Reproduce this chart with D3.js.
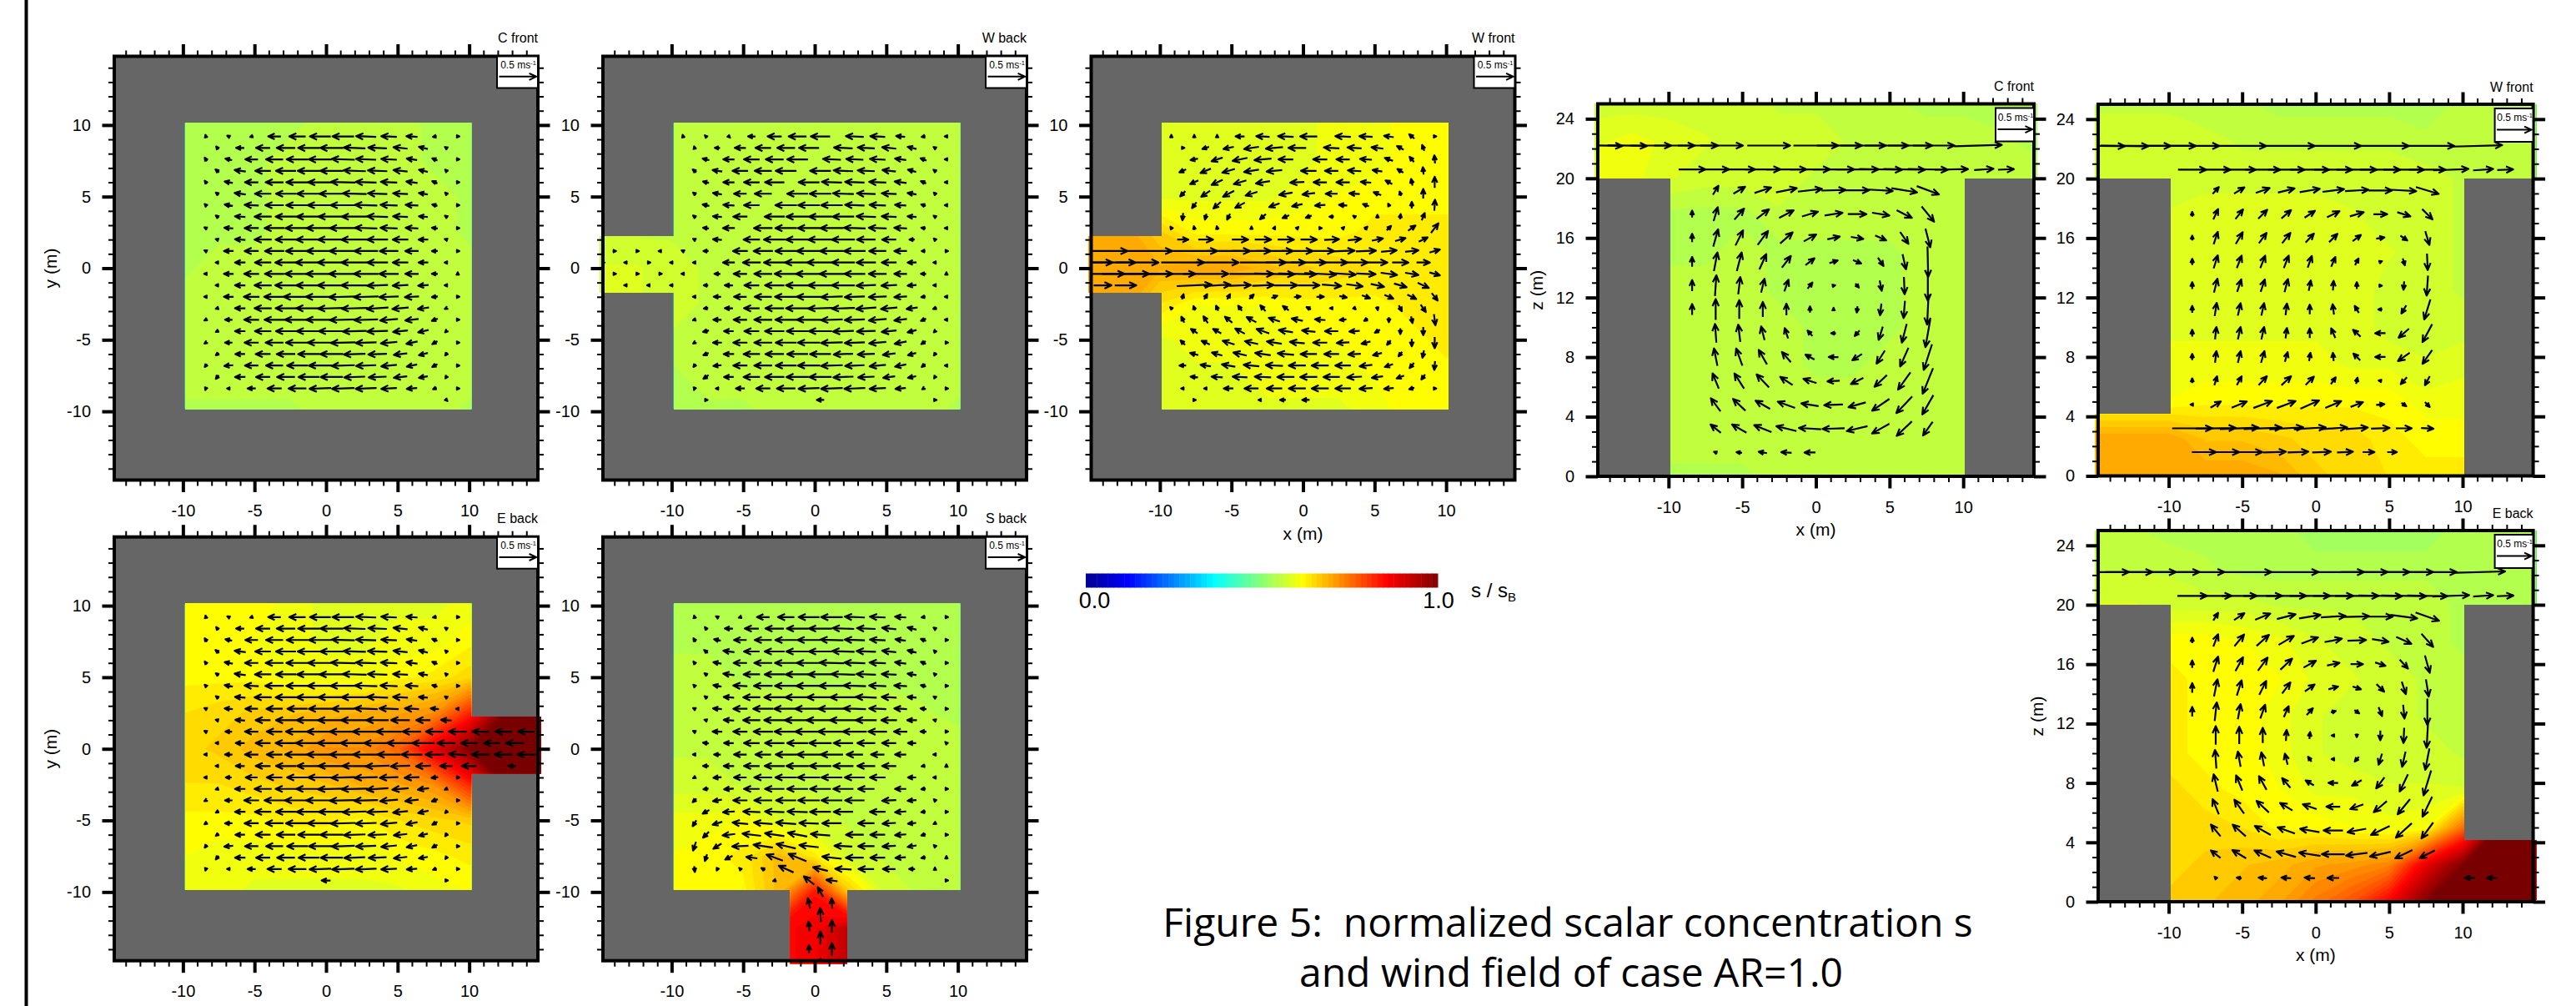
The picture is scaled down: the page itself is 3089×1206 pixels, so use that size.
<!DOCTYPE html>
<html>
<head>
<meta charset="utf-8">
<script src="https://cdn.jsdelivr.net/npm/d3@7"></script>
<style>
  html, body { margin: 0; background: #fff; }
  text { font-family: "Liberation Sans", Arial, sans-serif; fill: #000; }
</style>
</head>
<body>
<div id="chart"></div>
<script>
// Tick labels
const xyTicks = [-10, -5, 0, 5, 10];
const zTicks = [0, 4, 8, 12, 16, 20, 24];
const colorbarLabels = ["0.0", "1.0"];

// Horizontal sections: rows of wind vectors, cm/s, top row first
const xyRowY = [9.2, 8.4, 7.6, 6.8, 6, 5.2, 4.4, 3.6, 2.8, 2, 1.2, 0.4, -0.4, -1.2, -2, -2.8, -3.6, -4.4, -5.2, -6, -6.8, -7.6, -8.4];
const rightEndUsual = [9.2, 8.4, 9.2, 8.4, 9.2, 8.4, 9.2, 8.4, 9.2, 8.4, 9.2, 8.4, 9.2, 8.4, 9.2, 8.4, 9.2, 8.4, 9.2, 8.4, 9.2, 8.4, 9.2];
const leftStartW = [-9.2, -8.4, -9.2, -8.4, -9.2, -8.4, -9.2, -8.4, -9.2, -8.4, -9.2, -8.4, -9.2, -8.4, -9.2, -8.4, -9.2, -8.4, -9.2, -8.4, -9.2, -8.4, -9.2];
const leftCountW = [7, 6, 6, 5, 5, 4, 4, 3, 3, 2, 2, 1, 1, 0, 0, 0, 0, 0, 0, 0, 0, 0, 0];
const noLeftCount = [0, 0, 0, 0, 0, 0, 0, 0, 0, 0, 0, 0, 0, 0, 0, 0, 0, 0, 0, 0, 0, 0, 0];
const leftStartS = [0, 0, 0, 0, 0, 0, 0, 0, 0, 0, 0, -7.6, -8.4, -7.6, -8.4, -7.6, -8.4, -7.6, -8.4, -7.6, -8.4, -7.6, -8.4];
const rightEndS = [9.2, 8.4, 9.2, 8.4, 9.2, 8.4, 9.2, 8.4, 9.2, 8.4, 9.2, 9.2, 8.4, 9.2, 8.4, 9.2, 8.4, 9.2, 8.4, 9.2, 8.4, 9.2, 8.4];
const leftCountS = [0, 0, 0, 0, 0, 0, 0, 0, 0, 0, 0, 10, 10, 9, 9, 8, 8, 7, 7, 6, 6, 5, 5];

const cFrontU = [
  [-1,-2,-3,-17,-22,-28,-29,-27,-21,-15,-5,1],
  [-3,-11,-19,-25,-29,-31,-29,-25,-19,-12,-3],
  [-3,-9,-17,-23,-29,-31,-31,-27,-21,-14,-7,1],
  [-5,-15,-21,-27,-30,-31,-30,-26,-19,-12,-3],
  [-3,-11,-18,-24,-30,-33,-33,-28,-22,-15,-7,1],
  [-4,-15,-22,-27,-32,-33,-32,-26,-20,-12,-3],
  [-2,-11,-19,-25,-30,-34,-34,-30,-23,-17,-7,1],
  [-4,-14,-23,-28,-33,-36,-35,-28,-20,-12,-3],
  [-2,-12,-19,-27,-32,-37,-36,-30,-23,-17,-8,1],
  [-3,-14,-23,-28,-34,-37,-36,-28,-21,-13,-3],
  [-2,-13,-19,-26,-31,-37,-37,-32,-25,-18,-8,1],
  [-3,-14,-22,-29,-36,-38,-36,-28,-21,-13,-3],
  [-2,-13,-20,-26,-33,-38,-38,-33,-26,-18,-8,0],
  [-3,-14,-23,-29,-34,-38,-36,-28,-21,-14,-3],
  [-2,-13,-21,-28,-37,-39,-38,-33,-26,-19,-8,1],
  [-3,-14,-23,-28,-34,-37,-35,-29,-22,-15,-4],
  [-2,-10,-20,-27,-34,-38,-36,-32,-24,-18,-8,1],
  [-4,-14,-22,-27,-33,-35,-32,-28,-20,-14,-3],
  [-3,-10,-19,-24,-31,-34,-33,-28,-22,-15,-7,1],
  [-4,-13,-20,-25,-29,-31,-29,-25,-18,-12,-3],
  [-3,-12,-18,-23,-28,-31,-31,-27,-21,-14,-7,1],
  [-4,-14,-19,-24,-28,-30,-28,-24,-18,-12,-2],
  [-1,-2,-11,-19,-24,-29,-30,-28,-21,-14,-5,1]
];
const cFrontV = [
  [4,1,-1,0,0,0,0,1,1,1,-1,0],
  [4,0,0,0,0,0,1,1,2,3,2],
  [5,2,0,0,0,0,1,1,1,2,3,0],
  [4,2,0,0,0,0,1,1,2,3,3],
  [4,2,0,0,0,0,1,1,1,2,3,0],
  [3,2,0,0,0,0,1,1,1,2,3],
  [2,2,1,0,0,0,0,1,1,1,2,0],
  [3,1,0,0,0,0,0,1,1,1,2],
  [1,1,0,0,0,0,0,1,1,1,1,0],
  [1,1,0,0,0,0,0,0,0,0,1],
  [1,0,0,0,0,0,0,0,0,0,0,0],
  [0,0,0,0,0,0,0,0,0,0,0],
  [0,0,0,0,0,0,0,0,0,0,0,2],
  [0,0,0,0,0,0,0,-1,-1,-1,0],
  [0,0,0,0,0,0,-1,-1,-1,-1,-1,0],
  [-1,0,0,0,0,-1,-1,-2,-2,-2,-2],
  [-1,0,0,0,0,0,-1,-1,-2,-2,-3,0],
  [-2,0,0,0,0,0,-1,-1,-2,-3,-3],
  [-2,0,0,0,0,0,-1,-1,-2,-3,-4,0],
  [-3,0,0,0,0,0,-1,-1,-2,-3,-4],
  [-4,-1,0,0,0,0,-1,-1,-2,-3,-4,0],
  [-5,0,0,0,0,0,-1,-1,-2,-2,-3],
  [-3,0,0,0,0,-1,-1,-1,-1,-1,-2,0]
];
const cFrontExtraY = [-9.2];
const cFrontExtraX = [[8.4]];
const cFrontExtraU = [[1]];
const cFrontExtraV = [[-1]];

const wBackU = [
  [-1,-1,1,-10,-19,-24,-26,-24,-20,-12,-5,-2],
  [-1,-7,-15,-21,-24,-27,-25,-23,-19,-12,-3],
  [null,-9,-15,-21,-24,-28,-24,-23,-21,-15,-8,-2],
  [-5,-13,-21,-23,-28,-28,-26,-23,-18,-11,-4],
  [null,-8,-15,-21,-26,-28,-27,-26,-23,-16,-7,-2],
  [-4,-12,-17,-23,-28,-29,-28,-25,-20,-12,-3],
  [null,-9,-15,-21,-29,-29,-29,-26,-22,-15,-6,-1],
  [-4,-12,-19,-27,-30,-31,-29,-26,-20,-12,-3],
  [null,-8,-16,-25,-29,-30,-31,-29,-24,-17,-6,-1],
  [-2,-12,-22,-29,-31,-33,-31,-25,-19,-7,-1],
  [-2,-7,-20,-26,-29,-33,-32,-29,-23,-17,-5,0],
  [-4,-16,-24,-29,-34,-36,-31,-26,-20,-12,-1],
  [-1,-8,-18,-24,-31,-35,-33,-28,-24,-17,-7,0],
  [-6,-11,-20,-26,-31,-33,-31,-26,-21,-12,-1],
  [-3,-10,-17,-23,-30,-33,-29,-27,-24,-17,-6,-1],
  [-6,-11,-21,-25,-31,-33,-31,-27,-22,-15,-5],
  [-3,-11,-18,-24,-29,-33,-29,-27,-24,-17,-7,-1],
  [-8,-13,-20,-26,-29,-31,-28,-25,-20,-12,-3],
  [-3,-12,-19,-24,-28,-30,-29,-27,-23,-16,-6,0],
  [-7,-14,-22,-25,-28,-28,-26,-23,-17,-11,-3],
  [-3,-11,-19,-24,-28,-30,-29,-26,-22,-15,-5,-1],
  [-7,-13,-22,-26,-30,-30,-27,-22,-16,-11,-2],
  [-1,-3,-12,-19,-25,-28,-29,-28,-22,-14,-3,0]
];
const wBackExtraY = [1.2, 0.4, -0.4, -1.2, -9.2];
const wBackExtraX = [[-14,-12.4,-10.8],[-14.8,-13.2,-11.6,-10],[-14,-12.4,-10.8],[-13.2,-11.6,-10],[-7.6,0.4,8.4]];
const wBackExtraU = [[2,2,-2],[1,-2,2,-2],[2,2,2],[-1,-1,-1],[2,-10,2]];
const wBackExtraV = [[0,0,0],[0,0,0,0],[0,0,0],[0,0,0],[0,0,0]];

const wFrontU = [
  [0,0,0,-12,-18,-21,-23,-21,-18,-13,-7,0],
  [0,-9,-14,-20,-23,-24,-21,-19,-16,-9,-3],
  [null,-10,-15,-20,-23,-20,-19,-18,-16,-11,-6,-1],
  [-9,-14,-17,-20,-21,-21,-18,-18,-13,-8,-1],
  [null,-11,-15,-17,-19,-19,-18,-18,-14,-9,-2,0],
  [-7,-12,-15,-16,-18,-17,-16,-14,-10,-2,0],
  [null,-6,-10,-13,-14,-14,-14,-11,-8,-2,0,1],
  [-1,-2,-4,-8,-9,-8,-6,-3,0,1,4],
  [-2,-1,-1,0,1,1,1,2,4,6,10,10],
  [15,20,22,22,22,22,20,18,15,14,12],
  [], [], [], [],
  [2,4,4,6,8,9,10,10,11,12,12,8],
  [-2,-3,-5,-7,-8,-6,-2,1,1,4,7],
  [-4,-6,-10,-13,-15,-15,-14,-9,-5,0,2,2],
  [-9,-11,-13,-17,-19,-18,-18,-14,-7,0,0],
  [-6,-11,-16,-18,-20,-20,-19,-17,-12,-5,0,0],
  [-11,-14,-18,-21,-22,-22,-20,-17,-12,-5,-2],
  [-9,-14,-18,-21,-23,-23,-23,-21,-17,-11,-6,-1],
  [-10,-15,-20,-22,-23,-23,-22,-20,-15,-10,-5],
  [-1,-4,-13,-19,-21,-23,-23,-21,-18,-13,-7,0]
];
const wFrontV = [
  [1,1,1,0,1,1,0,1,1,2,6,0],
  [0,-3,-3,-3,-2,0,1,1,2,5,8],
  [0,-2,-5,-4,-2,0,0,0,1,4,7,11],
  [-4,-6,-5,-3,-2,0,0,1,2,5,10],
  [0,-5,-7,-5,-3,-1,0,0,1,5,9,15],
  [-7,-8,-8,-5,-3,-2,0,1,4,6,13],
  [0,-8,-9,-7,-5,-3,-1,1,3,4,9,15],
  [-10,-8,-8,-7,-4,-3,0,2,5,7,10],
  [3,5,5,3,2,1,0,2,4,6,7,13],
  [0,0,0,0,0,0,1,2,3,4,6],
  [], [], [], [],
  [7,7,7,6,3,1,0,-2,-4,-5,-6,-10],
  [6,7,7,8,6,3,0,-1,-5,-8,-10],
  [8,9,8,7,5,3,1,-1,-3,-7,-9,-15],
  [6,6,7,6,3,2,0,-1,-4,-8,-11],
  [6,5,5,4,3,2,0,-1,-3,-6,-10,-15],
  [3,4,4,3,2,0,0,-1,-3,-6,-10],
  [0,2,3,2,1,0,0,0,-2,-4,-7,-12],
  [1,1,1,1,0,0,0,-1,-2,-4,-7],
  [0,0,0,0,0,0,0,0,-1,-1,-2,0]
];
// inflow jet of the west front case, and a few stray vectors
const wFrontExtraY = [1.2, 0.4, -0.4, -1.2, -2.8, -9.2];
const wFrontExtraX = [
  [-14,-10.8,-7.6,-5.2,-3.6,-2,-0.4,1.2,2.8,4.4,6,7.6,9.2],
  [-14.8,-13.2,-11.6,-8.4,-6,-2.8,-1.2,0.4,2,3.6,5.2,6.8,8.4],
  [-14,-12.4,-10.8,-9.2,-6.8,-3.6,-2,-0.4,1.2,2.8,4.4,6,7.6,9.2],
  [-14,-12.4,-7.6,-6,-4.4,-2.8,-1.2,0.4,2,3.6,5.2,6.8,8.4],
  [-9.2],
  [-7.6,-3,-1.4,0.2]
];
const wFrontExtraU = [
  [67,64,62,58,52,50,42,38,31,27,21,18,14],
  [58,58,58,58,58,62,53,47,43,36,27,22,18],
  [59,64,65,65,61,59,54,51,43,34,26,22,18,14],
  [24,29,47,36,29,29,31,29,26,22,18,17,15],
  [-1],
  [2,-4,-8,-10]
];
const wFrontExtraV = [
  [0,0,0,0,0,0,0,0,1,1,2,2,4],
  [0,0,0,0,0,0,0,0,0,0,0,0,0],
  [0,0,0,0,0,0,-1,-1,-2,-2,-1,-3,-3,-4],
  [0,0,2,2,1,1,0,0,-2,-3,-4,-5,-7],
  [1],
  [0,0,0,0]
];

// east back differs from C front around the inlet rows only
const eBackU = cFrontU.slice(0, 8).concat([
  [-2,-11,-17,-22,-27,-31,-30,-31,-26,-19,-11,-3],
  [-4,-13,-20,-27,-33,-37,-36,-30,-25,-19,-14],
  [-2,-9,-18,-21,-31,-36,-36,-36,-34,-25,-24,-24],
  [-4,-12,-20,-28,-35,-38,-38,-36,-36,-30,-24],
  [-2,-10,-18,-21,-33,-36,-36,-35,-31,-28,-25,-24],
  [-4,-12,-20,-27,-32,-36,-33,-32,-26,-20,-17],
  [-1,-8,-16,-21,-28,-33,-32,-31,-25,-20,-9,0]
], cFrontU.slice(15));
const eBackExtraY = [1.2, 0.4, -0.4, -1.2, -9.2];
const eBackExtraX = [[10.8,12.4,14],[10,11.6,13.2],[10.8,12.4,14],[10,13],[0,8.4]];
const eBackExtraU = [[-22,-22,-22],[-22,-22,-24],[-24,-24,-24],[-20,-10],[-12,2]];
const eBackExtraV = [[0,0,0],[0,0,0],[0,0,0],[0,0],[0,0]];

// south back: upper rows follow C front, lower rows bend around the inlet
const sBackU = cFrontU.slice(0, 11).concat([
  [-8,-13,-21,-26,-28,-30,-26,-24,-19,-11,-1],
  [-3,-9,-17,-21,-28,-32,-30,-22,-18,-15,-1],
  [-8,-14,-21,-27,-30,-29,-27,-24,-19,-5,0],
  [-4,-11,-17,-24,-29,-30,-28,-27,-21,-11,-1],
  [-7,-13,-21,-26,-28,-28,-27,-22,-15,-6,0],
  [-5,-12,-19,-24,-27,-29,-28,-26,-19,-12,-1],
  [-9,-16,-23,-26,-27,-28,-26,-21,-15,-6,0],
  [-5,-13,-21,-25,-27,-26,-26,-22,-18,-11,-2],
  [-8,-17,-25,-26,-26,-26,-24,-20,-15,-6,0],
  [-4,-11,-22,-26,-26,-26,-24,-22,-18,-12,-1],
  [-3,-10,-15,-22,-24,-26,-24,-20,-14,-6,0],
  [1,-1,-1,-5,-20,-20,-22,-21,-17,-8,0]
]);
const sBackV = cFrontV.slice(0, 11).concat([
  [1,0,0,0,0,0,0,0,0,0,1],
  [0,0,0,0,0,0,0,0,0,0,0],
  [0,0,0,0,0,0,0,0,0,-1,2],
  [-2,-1,0,0,0,0,0,0,0,0,0],
  [-1,-1,0,0,0,0,0,0,0,-1,0],
  [-5,-2,0,0,0,0,0,0,-1,-1,1],
  [-5,-1,1,1,1,0,0,0,-1,-1,0],
  [-8,-4,2,2,2,1,0,0,-1,-1,-1],
  [-8,-2,3,4,5,2,0,0,-1,-2,0],
  [-12,-7,-1,4,6,3,1,0,-1,-2,1],
  [-9,-5,2,8,10,3,0,0,-1,-1,1],
  [-8,-2,1,3,9,5,1,0,0,0,1]
]);
const sBackExtraY = [-9.2, -10, -10.8, -11.6, -12.4, -13.2, -14, -14.8];
const sBackExtraX = [[-2.8,-0.4,1.2,9.2],[0.4],[-0.4,1.2],[0.4],[-0.4,1.2],[0.4],[-0.4,1.2],[0.4]];
const sBackExtraU = [[-3,-14,-15,3],[-7],[-3,-1],[-1],[-1,0],[0],[0,0],[0]];
const sBackExtraV = [[-1,11,2,0],[13],[14,14],[19],[13,17],[17],[11,17],[5]];

// Vertical sections: columns of the regular vector grid, rows from z=19.2 down
const xzColX = [-8.4, -6.8, -5.2, -3.6, -2, -0.4, 1.2, 2.8, 4.4, 6, 7.6];
const xzRowZ = [19.2, 17.6, 16, 14.4, 12.8, 11.2, 9.6, 8, 6.4, 4.8, 3.2, 1.6];

const cSectionU = [
  [null,8,17,24,30,35,35,35,35,37,32],
  [0,6,14,18,21,23,26,27,25,22,18],
  [0,7,11,15,18,18,18,18,16,12,7],
  [0,5,7,10,13,13,12,12,8,5,1],
  [0,2,3,5,6,7,5,5,3,1,0],
  [0,0,0,0,0,0,0,-1,-2,-2,-2],
  [null,-2,-3,-5,-5,-7,-7,-7,-6,-7,-7],
  [null,-5,-9,-12,-13,-13,-14,-14,-12,-12,-12],
  [null,-9,-14,-18,-18,-19,-18,-18,-18,-18,-15],
  [null,-14,-18,-21,-25,-25,-27,-25,-25,-23,-16],
  [null,-15,-21,-25,-29,-32,-32,-30,-25,-22,-14],
  [null,-5,-8,-12,-15,-16,null,null,null,null,null]
];
const cSectionV = [
  [null,13,10,8,6,4,1,0,-2,-6,-12],
  [10,20,16,14,11,7,4,0,-4,-11,-22],
  [12,25,22,20,16,10,4,-3,-7,-17,-27],
  [14,27,27,22,17,10,4,-5,-12,-22,-44],
  [16,30,25,20,17,9,1,-6,-15,-25,-44],
  [16,30,27,22,17,9,1,-9,-17,-25,-44],
  [null,27,25,20,15,8,0,-8,-19,-27,-40],
  [null,25,25,21,15,7,0,-9,-19,-27,-37],
  [null,22,22,19,12,6,-1,-9,-17,-25,-37],
  [null,19,17,12,9,4,-1,-7,-17,-24,-28],
  [null,12,12,10,7,2,-1,-7,-14,-21,-20],
  [null,2,1,2,1,0,null,null,null,null,null]
];
const cSectionTopZ = [22.2, 20.6];
const cSectionTopX = [
  [-14.4,-12.8,-11.2,-9.6,-8,-6.4,-3.2,0,1.6,3.2,4.8,6.4,8,11],
  [-8.4,-6.8,-5.2,-3.6,-2,-0.4,1.2,2.8,4.4,6,7.6,9.2,11.4,12.9]
];
const cSectionTopU = [
  [54,57,59,59,58,62,62,65,65,66,63,64,60,69],
  [39,39,46,51,58,58,60,62,62,60,58,48,28,23]
];
const cSectionTopV = [
  [-1,-1,0,0,0,0,0,0,0,0,0,0,0,2],
  [0,0,0,0,0,0,0,0,-1,-1,-1,1,2,1]
];

const wSectionU = [
  [null,9,15,20,24,29,31,34,34,36,33],
  [0,7,11,13,14,15,18,20,20,19,15],
  [0,6,10,11,12,12,12,12,12,10,6],
  [0,6,7,7,7,6,6,5,5,3,1],
  [0,5,6,6,5,3,1,0,3,-1,-2],
  [0,3,4,4,2,0,-2,-6,-6,-7,-9],
  [0,2,4,4,2,0,-6,-11,-15,-15,-14],
  [0,2,4,5,4,2,-1,-10,-15,-17,-14],
  [0,4,7,12,14,12,7,2,-5,-9,-7],
  [-1,15,22,27,27,27,23,18,12,7,7],
  [58,58,56,55,49,46,40,32,27,23,18],
  []
];
const wSectionV = [
  [null,10,9,7,6,5,4,2,0,-2,-10],
  [7,15,14,13,12,10,9,6,0,-6,-15],
  [7,18,17,15,15,13,12,9,2,-7,-20],
  [9,19,18,18,18,17,14,10,2,-10,-24],
  [10,20,18,18,19,15,14,10,0,-12,-29],
  [10,19,18,18,17,14,15,10,0,-12,-29],
  [10,18,18,18,15,14,14,10,0,-13,-26],
  [9,17,17,17,14,12,12,10,0,-12,-20],
  [7,13,13,13,13,12,10,9,1,-10,-13],
  [0,9,9,10,10,12,10,7,1,-5,-7],
  [0,1,2,2,3,3,3,2,1,0,-1],
  []
];
const wSectionTopZ = [22.2, 20.6, 1.6];
const wSectionTopX = [
  [-14.6,-13,-11.5,-9.8,-8.2,-5,-1.7,1.45,4.7,7.8,11],
  [-8.4,-6.8,-5.2,-3.6,-2,-0.4,1.2,2.8,4.4,6,7.6,9.2,11.4,12.9],
  [-7.6,-6,-4.4,-2.8,-1.2,0.4,2,3.6,5.2]
];
const wSectionTopU = [
  [69,69,70,70,70,70,70,70,70,70,72],
  [41,43,48,51,53,56,55,58,58,59,53,51,29,23],
  [35,34,33,33,30,27,23,17,14]
];
const wSectionTopV = [
  [-1,-1,0,0,0,0,0,0,0,0,2],
  [0,0,0,0,0,0,0,0,0,0,0,2,2,1],
  [0,0,0,1,1,1,1,0,0]
];

const eSectionU = [
  [null,7,15,22,27,31,36,36,36,39,34],
  [0,7,14,18,22,24,25,27,24,22,17],
  [0,7,11,14,17,18,18,18,15,12,7],
  [0,5,7,10,12,14,14,12,11,6,4],
  [0,3,4,7,7,9,7,7,5,2,0],
  [null,0,0,0,1,1,-3,0,0,-1,-2],
  [null,-2,-4,-4,-4,-5,-5,-6,-5,-5,-6],
  [null,-6,-9,-11,-12,-12,-14,-14,-12,-12,-11],
  [null,-9,-14,-18,-18,-20,-20,-19,-19,-18,-14],
  [null,-14,-19,-23,-25,-28,-28,-27,-27,-23,-17],
  [null,-14,-20,-24,-28,-31,-33,-31,-30,-25,-22],
  [null,-2,-7,-12,-14,-15,-17,null,null,null,null]
];
const eSectionV = [
  [null,11,10,9,7,5,2,1,0,-5,-12],
  [8,18,17,16,13,9,5,1,-4,-10,-19],
  [11,22,20,19,16,10,4,0,-5,-13,-25],
  [14,25,22,20,16,10,4,-4,-11,-18,-25],
  [14,27,22,20,16,10,2,-5,-13,-20,-38],
  [null,27,25,22,16,10,0,-5,-14,-22,-36],
  [null,27,22,20,16,7,0,-7,-16,-22,-31],
  [null,25,22,20,14,7,0,-8,-16,-25,-36],
  [null,22,20,17,11,7,0,-7,-16,-22,-29],
  [null,17,17,13,9,5,0,-5,-13,-21,-23],
  [null,11,12,11,8,5,0,-4,-7,-12,-11],
  [null,2,1,1,1,1,0,null,null,null,null]
];
const eSectionTopZ = [22.2, 20.6, 1.6];
const eSectionTopX = [
  [-14.3,-12.7,-11.1,-9.5,-7.8,-4.6,-1.4,1.7,3.3,4.8,6.4,8,11.2],
  [-8.4,-6.8,-5.2,-3.6,-2,-0.4,1.2,2.8,4.4,6,7.6,9.2,11.4,12.9],
  [10.5,12]
];
const eSectionTopU = [
  [68,68,68,68,68,68,68,68,68,68,68,68,72],
  [43,46,51,56,58,59,58,63,63,65,58,53,29,24],
  [-15,-15]
];
const eSectionTopV = [
  [0,0,0,0,0,0,0,0,0,0,0,0,2],
  [0,0,0,0,0,0,0,0,-1,-1,-1,2,2,1],
  [0,0]
];

// Scalar concentration in percent on a 2.5 m grid, x from -15 to 15
const cFrontField = [
  [54,54,54,54,54,54,54,54,54,54,54,54,54],
  [54,54,54,54,54,54,54,54,54,54,54,54,54],
  [54,54,54,54,54,54,56,56,56,54,54,54,54],
  [54,54,54,54,54,56,56,56,56,54,54,54,54],
  [54,54,54,54,54,56,56,56,56,56,54,54,54],
  [54,54,54,54,54,56,56,56,56,56,54,54,54],
  [54,54,54,56,56,56,56,56,56,56,56,56,56],
  [56,56,56,56,56,56,56,56,56,56,56,56,56],
  [56,56,56,56,56,56,56,56,56,56,56,56,56],
  [56,56,56,56,56,56,56,56,56,56,56,56,56],
  [54,54,54,54,54,54,56,56,56,56,54,54,54],
  [54,54,54,54,54,54,56,56,56,56,54,54,54],
  [54,54,54,54,54,54,56,56,56,56,54,54,54]
];
const wBackField = [
  [56,56,56,56,56,56,56,56,56,56,56,56,56],
  [56,56,56,56,56,56,56,56,56,56,56,56,56],
  [56,56,56,56,56,56,56,56,56,56,56,56,56],
  [56,56,56,56,56,56,56,56,56,56,56,56,56],
  [56,56,56,56,56,56,56,56,56,56,56,56,56],
  [56,56,56,56,56,56,56,56,56,56,56,56,56],
  [58,58,57,56,56,56,56,56,56,56,56,56,56],
  [58,58,57,56,56,56,56,56,56,56,56,56,56],
  [56,56,56,56,56,56,56,56,56,56,56,56,56],
  [54,54,54,56,56,56,56,56,56,56,56,56,56],
  [54,54,54,54,54,56,56,56,56,56,54,54,54],
  [54,54,54,54,54,56,56,56,56,56,54,54,54],
  [54,54,54,54,54,56,56,56,56,56,54,54,54]
];
const wFrontField = [
  [59,59,59,59,59,59,59,60,60,62,62,62,62],
  [59,59,59,59,59,59,59,60,60,62,62,62,62],
  [59,59,59,59,59,59,59,60,60,62,62,62,62],
  [59,59,59,59,59,59,59,60,60,62,62,62,62],
  [59,59,59,59,59,59,60,61,62,62,62,62,62],
  [70,70,66,62,62,62,62,62,63,63,63,63,63],
  [70,70,69,70,70,68,66,65,64,64,64,64,64],
  [70,70,64,61,61,61,62,62,62,63,64,64,64],
  [59,59,59,60,60,60,61,61,62,62,63,63,63],
  [59,59,59,59,59,60,60,60,61,62,62,62,62],
  [59,59,59,59,59,59,59,59,60,62,62,62,62],
  [59,59,59,59,59,59,59,59,60,62,62,62,62],
  [59,59,59,59,59,59,59,59,60,62,62,62,62]
];
const eBackField = [
  [62,62,62,62,62,60,59,59,59,59,60,60,60],
  [62,62,62,62,62,60,59,59,59,59,60,60,60],
  [62,62,62,62,62,60,59,59,59,59,60,60,60],
  [62,62,62,62,61,60,59,59,60,60,62,62,62],
  [62,62,62,62,62,60,60,60,62,63,65,65,65],
  [64,64,64,65,66,67,68,69,70,72,82,100,100],
  [66,66,65,66,68,69,72,72,76,88,100,100,100],
  [64,64,64,64,65,66,67,69,70,72,82,100,100],
  [62,62,62,62,62,63,63,62,64,65,66,66,66],
  [60,61,61,60,60,60,60,60,61,62,63,63,63],
  [61,61,61,60,59,59,59,59,59,60,61,61,61],
  [61,61,61,60,59,59,59,59,59,60,61,61,61],
  [61,61,61,60,59,59,59,59,59,60,61,61,61]
];
const sBackField = [
  [54,54,54,54,54,54,54,54,54,54,54,54,54],
  [54,54,54,54,54,54,54,54,54,54,54,54,54],
  [54,54,54,54,54,54,54,54,54,54,54,54,54],
  [54,54,54,54,54,54,54,54,54,54,54,54,54],
  [56,56,56,56,54,54,54,54,54,54,54,54,54],
  [56,56,56,56,56,56,56,56,56,55,54,54,54],
  [56,56,56,56,56,56,56,56,56,56,56,56,56],
  [57,57,57,57,56,56,56,56,56,56,56,56,56],
  [60,60,60,60,61,58,57,56,56,56,56,56,56],
  [61,61,61,62,63,68,63,57,56,56,56,56,56],
  [61,61,61,61,62,68,84,66,57,56,56,56,56],
  [61,61,61,61,62,85,87,93,57,56,56,56,56],
  [61,61,61,61,62,85,87,93,57,56,56,56,56]
];
// Vertical sections, z from 25 down to 0
const cSectionField = [
  [57,57,57,57,57,56,56,56,55,54,54,54,54],
  [59,60,59,58,57,57,57,56,56,56,56,55,54],
  [60,60,58,57,57,57,56,56,56,56,56,56,56],
  [56,56,54,54,54,56,56,56,56,56,56,56,56],
  [56,56,54,54,56,54,54,54,54,56,56,56,56],
  [56,56,56,56,56,54,54,54,54,56,56,56,56],
  [56,56,56,56,56,56,54,54,54,56,56,56,56],
  [56,56,56,56,56,56,54,54,56,56,56,56,56],
  [56,56,56,56,56,56,56,56,56,56,56,56,56],
  [56,56,56,56,56,56,56,56,56,56,56,56,56],
  [56,56,54,54,54,56,56,56,56,56,56,54,54]
];
const wSectionField = [
  [56,56,56,55,55,54,54,54,54,54,55,55,55],
  [57,57,57,57,56,56,56,56,56,55,55,56,56],
  [57,57,57,57,57,57,57,57,57,57,56,56,56],
  [58,58,58,59,59,59,59,58,57,57,56,56,56],
  [58,58,59,59,59,59,59,58,58,57,56,56,56],
  [59,59,59,59,59,59,59,59,57,57,56,56,56],
  [59,59,59,59,59,59,59,59,57,57,57,57,57],
  [60,60,60,60,60,60,60,59,59,58,59,59,59],
  [61,61,61,62,62,62,62,62,62,60,60,60,60],
  [70,70,70,67,67,66,65,65,63,62,62,62,62],
  [70,70,70,70,70,69,66,65,64,63,63,63,63]
];
const eSectionField = [
  [55,55,54,54,54,54,52,52,52,52,54,54,54],
  [56,56,56,55,54,54,54,54,54,54,54,54,54],
  [58,58,57,57,57,56,56,56,56,56,54,54,54],
  [61,61,62,62,61,60,58,57,56,56,54,54,54],
  [63,63,63,62,62,61,59,58,57,56,56,56,56],
  [63,63,63,62,62,60,58,57,57,56,56,56,56],
  [63,63,63,62,62,60,58,57,57,57,56,56,56],
  [64,64,65,63,62,61,59,59,58,58,58,58,58],
  [64,64,65,65,64,62,62,61,60,61,75,100,100],
  [65,65,65,66,67,68,70,71,73,88,100,100,100],
  [65,65,66,67,68,70,74,78,86,100,100,100,100]
];

// colour ramp of the scalar, 64 steps
const rampStops = [0, 0.12, 0.365, 0.615, 0.855, 1];
const rampColors = ["#00008f", "#0000ff", "#00ffff", "#ffff00", "#ff0000", "#800000"];
const color = d3.scaleLinear().domain(rampStops).range(rampColors);
const steps = 64;

const width = 3089;
const height = 1206;

const svg = d3.select("#chart").append("svg")
  .attr("width", width).attr("height", height)
  .style("display", "block");

// Left rule of the page
svg.append("line")
  .attr("x1", 31.5).attr("x2", 31.5).attr("y1", 0).attr("y2", height)
  .attr("stroke", "#000").attr("stroke-width", 4);

// Turn rows of values into arrow objects
function rowsToArrows(ys, xRows, uRows, vRows) {
  const out = [];
  ys.forEach((y, i) => {
    xRows[i].forEach((x, j) => {
      const u = uRows[i][j];
      if (u === null || u === undefined) return;
      out.push({ x: x, y: y, u: u, v: vRows[i][j] || 0 });
    });
  });
  return out;
}

// x positions of a row: some counted from the left, the rest from the right
function gridRows(uRows, leftCount, leftStart, rightEnd) {
  return uRows.map((row, i) => {
    const n = leftCount[i];
    const m = row.length - n;
    const left = d3.range(n).map(k => leftStart[i] + 1.6 * k);
    const right = d3.range(m).map(k => rightEnd[i] - 1.6 * (m - 1 - k));
    return left.concat(right);
  });
}

const xySize = 508;
const xyHalf = 14.8;
const xzHalf = 14.8;

const arrowPath = (x, y, speed) => a => {
  const dx = speed(a.u), dy = speed(a.v);
  let len = Math.hypot(dx, dy);
  const ux = len ? dx / len : 1, uy = len ? dy / len : 0;
  len = Math.max(len, 4);
  const cx = x(a.x), cy = y(a.y);
  const x0 = cx - ux * len / 2, y0 = cy + uy * len / 2;
  const x1 = cx + ux * len / 2, y1 = cy - uy * len / 2;
  const h = Math.min(8.5, 2.5 + len * 0.35);
  const w = h * 0.45;
  const bx = x1 - ux * h, by = y1 + uy * h;
  const nx = uy, ny = ux;
  return `M${x0},${y0}L${x1},${y1}M${bx + nx * w},${by + ny * w}L${x1},${y1}L${bx - nx * w},${by - ny * w}`;
};

let panelId = 0;

function drawPanel(p) {
  const id = "panel" + (panelId++);
  const g = svg.append("g");
  const x = d3.scaleLinear().domain(p.xDomain).range([p.left, p.right]);
  const y = d3.scaleLinear().domain(p.yDomain).range([p.bottom, p.top]);

  // buildings
  g.append("rect")
    .attr("x", p.left).attr("y", p.top)
    .attr("width", p.right - p.left).attr("height", p.bottom - p.top)
    .attr("fill", "#666666");

  // open air region as clip for the scalar field
  const clip = g.append("clipPath").attr("id", id + "-open");
  p.open.forEach(r => {
    clip.append("rect")
      .attr("x", x(r[0])).attr("y", y(r[3]))
      .attr("width", x(r[1]) - x(r[0])).attr("height", y(r[2]) - y(r[3]));
  });
  g.append("clipPath").attr("id", id + "-frame").append("rect")
    .attr("x", p.left).attr("y", p.top)
    .attr("width", p.right - p.left).attr("height", p.bottom - p.top);

  // filled contours of the field
  const nx = p.field[0].length, ny = p.field.length;
  const contours = d3.contours().size([nx, ny])
    .thresholds(d3.range(0, steps + 1).map(k => k / steps))(p.field.flat().map(d => d / 100));
  const project = d3.geoTransform({
    point: function (gx, gy) {
      this.stream.point(x(-15 + 2.5 * (gx - 0.5)), y(p.fieldTop - 2.5 * (gy - 0.5)));
    }
  });
  const path = d3.geoPath(project);
  g.append("g").attr("clip-path", `url(#${id}-open)`)
    .selectAll("path").data(contours).join("path")
    .attr("d", path)
    .attr("fill", d => color(d.value + 0.5 / steps));

  // arrows
  const speed = d3.scaleLinear().domain([0, 50]).range([0, p.refLen]);
  g.append("g").attr("clip-path", `url(#${id}-frame)`)
    .selectAll("path").data(p.arrows).join("path")
    .attr("d", arrowPath(x, y, speed))
    .attr("fill", "none").attr("stroke", "#000").attr("stroke-width", 2.2)
    .attr("stroke-linejoin", "round");

  // ticks, major and minor on all four sides
  const minorX = d3.range(-14, 15);
  const minorY = p.minorY;
  const axes = [
    [d3.axisBottom, x, p.bottom, true],
    [d3.axisTop, x, p.top, false],
    [d3.axisLeft, y, p.left, true],
    [d3.axisRight, y, p.right, false]
  ];
  axes.forEach(([axisFn, scale, pos, labelled]) => {
    const isX = scale === x;
    const translate = isX ? `translate(0,${pos})` : `translate(${pos},0)`;
    const minor = g.append("g").attr("transform", translate)
      .call(axisFn(scale).tickValues(isX ? minorX : minorY).tickSize(7).tickFormat(""));
    minor.select(".domain").remove();
    minor.selectAll("line").attr("stroke", "#000").attr("stroke-width", 2);
    const major = g.append("g").attr("transform", translate)
      .call(axisFn(scale).tickValues(isX ? xyTicks : p.majorY).tickSize(14.5)
        .tickPadding(isX ? 15 : 13.5).tickFormat(labelled ? (d => String(d)) : ""));
    major.select(".domain").remove();
    major.selectAll("line").attr("stroke", "#000").attr("stroke-width", 4);
    major.selectAll("text").style("font-family", "'Liberation Sans', Arial, sans-serif")
      .style("font-size", "20px").attr("fill", "#000");
  });

  // frame
  g.append("rect")
    .attr("x", p.left).attr("y", p.top)
    .attr("width", p.right - p.left).attr("height", p.bottom - p.top)
    .attr("fill", "none").attr("stroke", "#000").attr("stroke-width", 4);

  // reference vector box
  const box = g.append("g");
  const bx = p.right - p.boxW, by = p.top + p.boxOffset;
  box.append("rect").attr("x", bx).attr("y", by).attr("width", p.boxW).attr("height", p.boxH)
    .attr("fill", "#fff").attr("stroke", "#000").attr("stroke-width", 2);
  const label = box.append("text").attr("x", bx + p.boxW / 2 + 1).attr("y", by + p.boxH * 0.38)
    .attr("text-anchor", "middle").style("font-size", "12px");
  label.append("tspan").text("0.5 ms");
  label.append("tspan").attr("dy", -4).style("font-size", "7.5px").text("-1");
  const ax0 = bx + 2.5, ax1 = ax0 + p.refLen, ay = by + p.boxH * 0.64;
  box.append("path")
    .attr("d", `M${ax0},${ay}L${ax1},${ay}M${ax1 - 8.5},${ay - 4}L${ax1},${ay}L${ax1 - 8.5},${ay + 4}`)
    .attr("fill", "none").attr("stroke", "#000").attr("stroke-width", 2);

  // panel title
  g.append("text").attr("x", p.right).attr("y", p.titleY)
    .attr("text-anchor", "end").style("font-size", "16px").text(p.title);

  if (p.xLabel) {
    g.append("text").attr("x", x(0)).attr("y", p.bottom + 71)
      .attr("text-anchor", "middle").style("font-size", "21px").text("x (m)");
  }
  if (p.yLabel) {
    g.append("text")
      .attr("transform", `translate(${p.left - p.yLabelGap},${p.yLabelMid}) rotate(-90)`)
      .attr("text-anchor", "middle").style("font-size", "21px").text(p.yLabel);
  }
}

function xyPanel(opts) {
  const arrows = rowsToArrows(xyRowY, gridRows(opts.u, opts.leftCount, opts.leftStart, opts.rightEnd), opts.u, opts.v)
    .concat(rowsToArrows(opts.extraY, opts.extraX, opts.extraU, opts.extraV));
  drawPanel({
    title: opts.title, titleY: opts.top - 17,
    left: opts.left, right: opts.left + xySize, top: opts.top, bottom: opts.top + xySize,
    xDomain: [-xyHalf, xyHalf], yDomain: [-xyHalf, xyHalf],
    majorY: xyTicks, minorY: d3.range(-14, 15),
    field: opts.field, fieldTop: 15, open: opts.open, arrows: arrows,
    refLen: 44.6, boxW: 49, boxH: 38, boxOffset: 0,
    xLabel: opts.xLabel, yLabel: opts.yLabel, yLabelGap: 69, yLabelMid: opts.top + xySize / 2
  });
}

function xzPanel(opts) {
  const xRows = xzRowZ.map(() => xzColX);
  const arrows = rowsToArrows(xzRowZ, xRows, opts.u, opts.v)
    .concat(rowsToArrows(opts.extraY, opts.extraX, opts.extraU, opts.extraV));
  drawPanel({
    title: opts.title, titleY: opts.top - 15.5,
    left: opts.left, right: opts.right, top: opts.top, bottom: opts.bottom,
    xDomain: [-xzHalf, xzHalf], yDomain: [0, 25],
    majorY: zTicks, minorY: d3.range(0, 25),
    field: opts.field, fieldTop: 25, open: opts.open, arrows: arrows,
    refLen: 41.5, boxW: 46, boxH: 40, boxOffset: 5,
    xLabel: opts.xLabel, yLabel: opts.yLabel, yLabelGap: 66, yLabelMid: (opts.top + opts.bottom) / 2
  });
}

const room = [-9.85, 10.15, -9.85, 10.15];

xyPanel({ title: "C front", left: 137, top: 67.5, u: cFrontU, v: cFrontV,
  leftCount: noLeftCount, leftStart: leftStartW, rightEnd: rightEndUsual,
  extraY: cFrontExtraY, extraX: cFrontExtraX, extraU: cFrontExtraU, extraV: cFrontExtraV,
  field: cFrontField, open: [room], yLabel: "y (m)" });
xyPanel({ title: "W back", left: 723, top: 67.5, u: wBackU, v: cFrontV,
  leftCount: leftCountW, leftStart: leftStartW, rightEnd: rightEndUsual,
  extraY: wBackExtraY, extraX: wBackExtraX, extraU: wBackExtraU, extraV: wBackExtraV,
  field: wBackField, open: [room, [-15, -9.85, -1.72, 2.25]] });
xyPanel({ title: "W front", left: 1308.5, top: 67.5, u: wFrontU, v: wFrontV,
  leftCount: leftCountW, leftStart: leftStartW, rightEnd: rightEndUsual,
  extraY: wFrontExtraY, extraX: wFrontExtraX, extraU: wFrontExtraU, extraV: wFrontExtraV,
  field: wFrontField, open: [room, [-15, -9.85, -1.72, 2.25]], xLabel: true });
xyPanel({ title: "E back", left: 137, top: 643.7, u: eBackU, v: cFrontV,
  leftCount: noLeftCount, leftStart: leftStartW, rightEnd: rightEndUsual,
  extraY: eBackExtraY, extraX: eBackExtraX, extraU: eBackExtraU, extraV: eBackExtraV,
  field: eBackField, open: [room, [10.15, 15, -1.72, 2.25]], yLabel: "y (m)" });
xyPanel({ title: "S back", left: 723, top: 643.7, u: sBackU, v: sBackV,
  leftCount: leftCountS, leftStart: leftStartS, rightEnd: rightEndS,
  extraY: sBackExtraY, extraX: sBackExtraX, extraU: sBackExtraU, extraV: sBackExtraV,
  field: sBackField, open: [room, [-1.72, 2.25, -15, -9.85]] });

xzPanel({ title: "C front", left: 1916, right: 2439, top: 124.5, bottom: 571,
  u: cSectionU, v: cSectionV,
  extraY: cSectionTopZ, extraX: cSectionTopX, extraU: cSectionTopU, extraV: cSectionTopV,
  field: cSectionField, open: [[-15, 15, 20, 25], [-9.85, 10.1, 0.1, 20]], xLabel: true, yLabel: "z (m)" });
xzPanel({ title: "W front", left: 2516, right: 3037.6, top: 125, bottom: 570.5,
  u: wSectionU, v: wSectionV,
  extraY: wSectionTopZ, extraX: wSectionTopX, extraU: wSectionTopU, extraV: wSectionTopV,
  field: wSectionField, open: [[-15, 15, 20, 25], [-9.85, 10.1, 0.1, 20], [-15, -9.85, 0.1, 4.15]] });
xzPanel({ title: "E back", left: 2516, right: 3037.6, top: 636, bottom: 1081,
  u: eSectionU, v: eSectionV,
  extraY: eSectionTopZ, extraX: eSectionTopX, extraU: eSectionTopU, extraV: eSectionTopV,
  field: eSectionField, open: [[-15, 15, 20, 25], [-9.85, 10.1, 0.1, 20], [10.1, 15, 0.1, 4.15]], xLabel: true, yLabel: "z (m)" });

// Colour bar
const barX = d3.scaleLinear().domain([0, steps]).range([1302, 1724]);
svg.append("g").selectAll("rect").data(d3.range(steps)).join("rect")
  .attr("x", d => barX(d)).attr("y", 687.5)
  .attr("width", d => barX(d + 1) - barX(d) + 0.5).attr("height", 17)
  .attr("fill", d => color((d + 0.5) / steps));
svg.append("text").attr("x", 1312.5).attr("y", 729).attr("text-anchor", "middle")
  .style("font-size", "27px").text(colorbarLabels[0]);
svg.append("text").attr("x", 1725).attr("y", 729).attr("text-anchor", "middle")
  .style("font-size", "27px").text(colorbarLabels[1]);
const sLabel = svg.append("text").attr("x", 1764).attr("y", 716).style("font-size", "24px");
sLabel.append("tspan").text("s / s");
sLabel.append("tspan").attr("dy", 5).style("font-size", "15px").text("B");

// Figure caption
const caption = svg.append("g");
caption.append("text").attr("x", 1880).attr("y", 1123).attr("text-anchor", "middle")
  .style("font-family", "'Open Sans', sans-serif").style("font-size", "48px").style("white-space", "pre")
  .text("Figure 5:  normalized scalar concentration s");
caption.append("text").attr("x", 1884).attr("y", 1183).attr("text-anchor", "middle")
  .style("font-family", "'Open Sans', sans-serif").style("font-size", "48px")
  .text("and wind field of case AR=1.0");
</script>
</body>
</html>
